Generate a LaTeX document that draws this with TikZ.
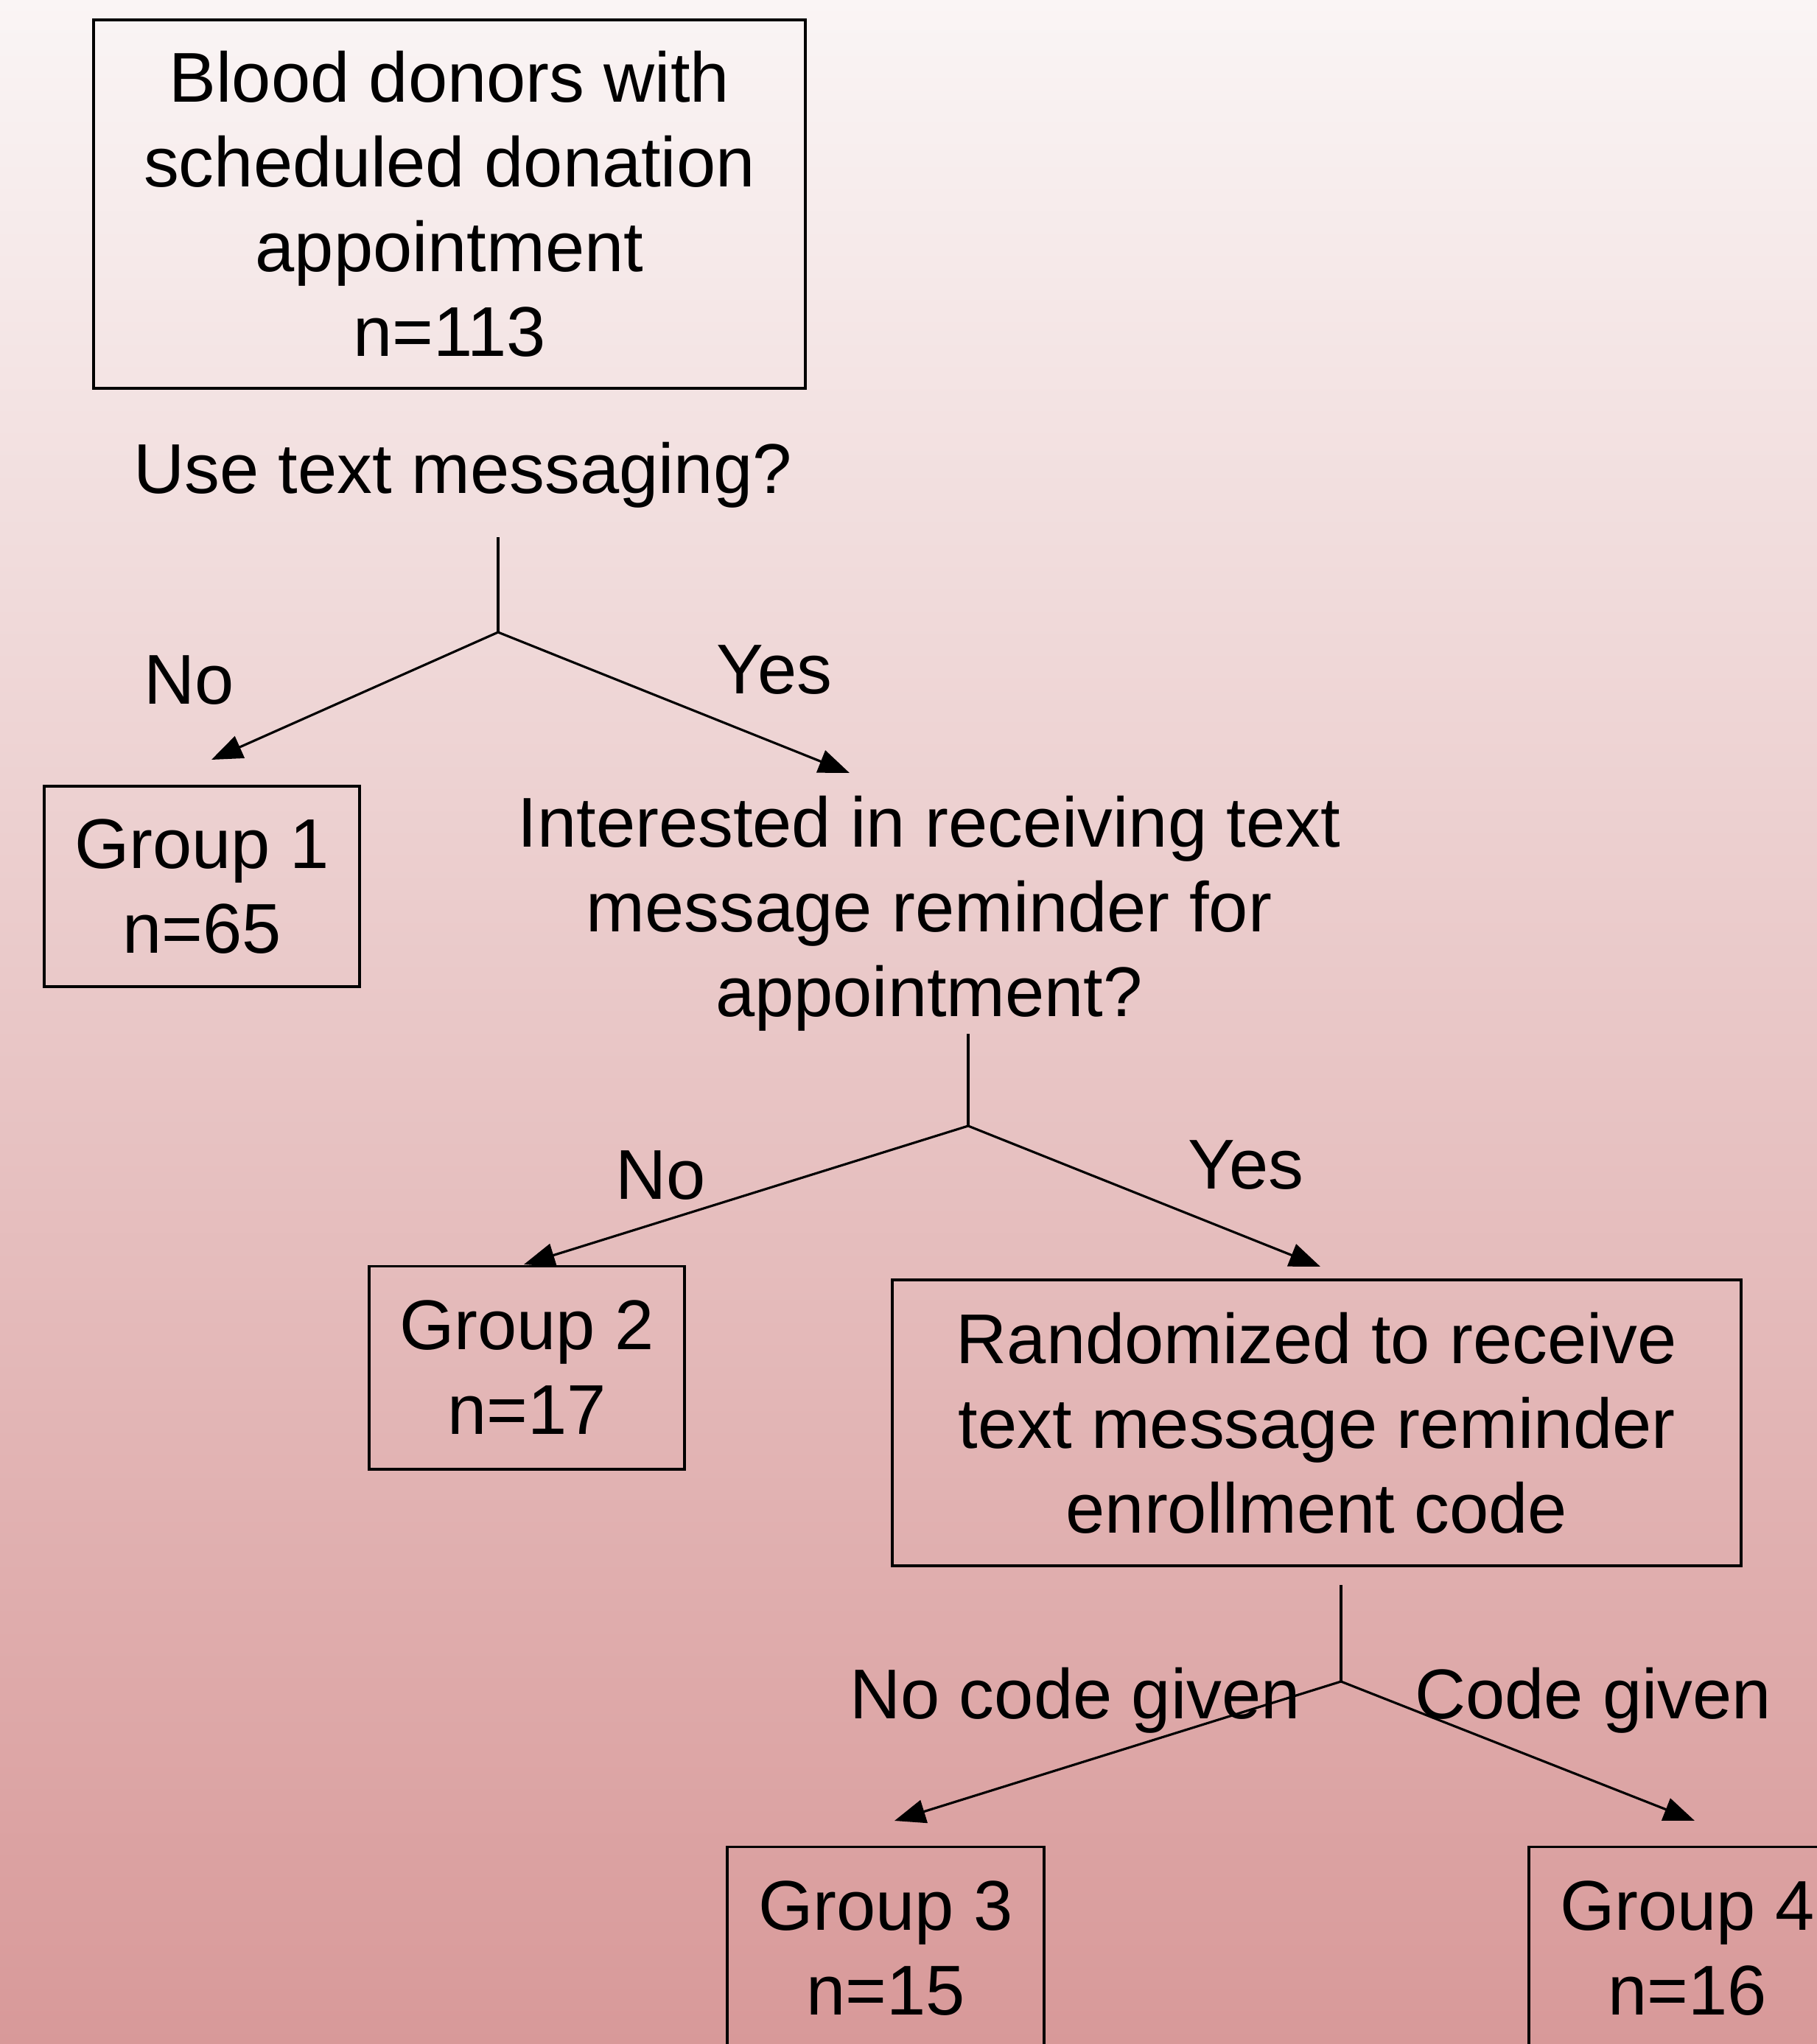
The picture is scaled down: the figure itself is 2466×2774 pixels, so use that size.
\documentclass[tikz,border=0pt]{standalone}
\usepackage{fontspec}
\setmainfont{Liberation Sans}
\usetikzlibrary{arrows.meta}
\definecolor{bgtop}{RGB}{250,245,245}
\definecolor{bgbottom}{RGB}{216,153,153}
\tikzset{
  flowbox/.style={draw, line width=1.1pt, align=center, inner sep=0pt},
  flowtext/.style={align=center, inner sep=0pt},
  stem/.style={line width=0.9pt},
  branch/.style={line width=0.9pt, -{Triangle[length=0.42cm, width=0.32cm]}}
}

\begin{document}
\begin{tikzpicture}[x=0.01cm, y=-0.01cm, font=\fontsize{27.2}{32.7}\selectfont]
\useasboundingbox (0,0) rectangle (2466,2774);
\clip (0,0) rectangle (2466,2774);
\shade[top color=bgtop, bottom color=bgbottom] (0,0) rectangle (2466,2774);

% first question
\node[flowbox, minimum width=9.66cm, minimum height=5cm] (donors) at (610,277)
  {Blood donors with\\scheduled donation\\appointment\\n=113};
\node[flowtext, anchor=base] (usetext) at (628,669) {Use text messaging?};
\node[flowtext, anchor=base] (no1) at (257,955) {No};
\node[flowtext, anchor=base] (yes1) at (1051,941) {Yes};
\coordinate (s1top) at (676,729);
\coordinate (s1) at (676,858);
\coordinate (g1tip) at (287,1031);
\coordinate (inttip) at (1153,1049);
\draw[stem] (s1top) -- (s1);
\draw[branch] (s1) -- (g1tip);
\draw[branch] (s1) -- (inttip);

\node[flowbox, minimum width=4.28cm, minimum height=2.72cm] (group1) at (274,1203)
  {Group 1\\n=65};

% second question
\node[flowtext] (interest) at (1261,1240)
  {Interested in receiving text\\message reminder for\\appointment?};
\node[flowtext, anchor=base] (no2) at (897,1627) {No};
\node[flowtext, anchor=base] (yes2) at (1691,1613) {Yes};
\coordinate (s2top) at (1314,1403);
\coordinate (s2) at (1314,1528);
\coordinate (g2tip) at (711,1716);
\coordinate (randtip) at (1792,1719);
\draw[stem] (s2top) -- (s2);
\draw[branch] (s2) -- (g2tip);
\draw[branch] (s2) -- (randtip);

\node[flowbox, minimum width=4.28cm, minimum height=2.75cm] (group2) at (715,1856)
  {Group 2\\n=17};
\node[flowbox, minimum width=11.51cm, minimum height=3.88cm] (random) at (1787,1931)
  {Randomized to receive\\text message reminder\\enrollment code};

% randomization
\node[flowtext, anchor=base] (nocode) at (1459,2332) {No code given};
\node[flowtext, anchor=base] (code) at (2162,2332) {Code given};
\coordinate (s3top) at (1820,2151);
\coordinate (s3) at (1820,2282);
\coordinate (g3tip) at (1214,2471);
\coordinate (g4tip) at (2300,2471);
\draw[stem] (s3top) -- (s3);
\draw[branch] (s3) -- (g3tip);
\draw[branch] (s3) -- (g4tip);

\node[flowbox, minimum width=4.3cm, minimum height=2.75cm] (group3) at (1202,2644)
  {Group 3\\n=15};
\node[flowbox, minimum width=4.3cm, minimum height=2.75cm] (group4) at (2290,2644)
  {Group 4\\n=16};
\end{tikzpicture}
\end{document}
